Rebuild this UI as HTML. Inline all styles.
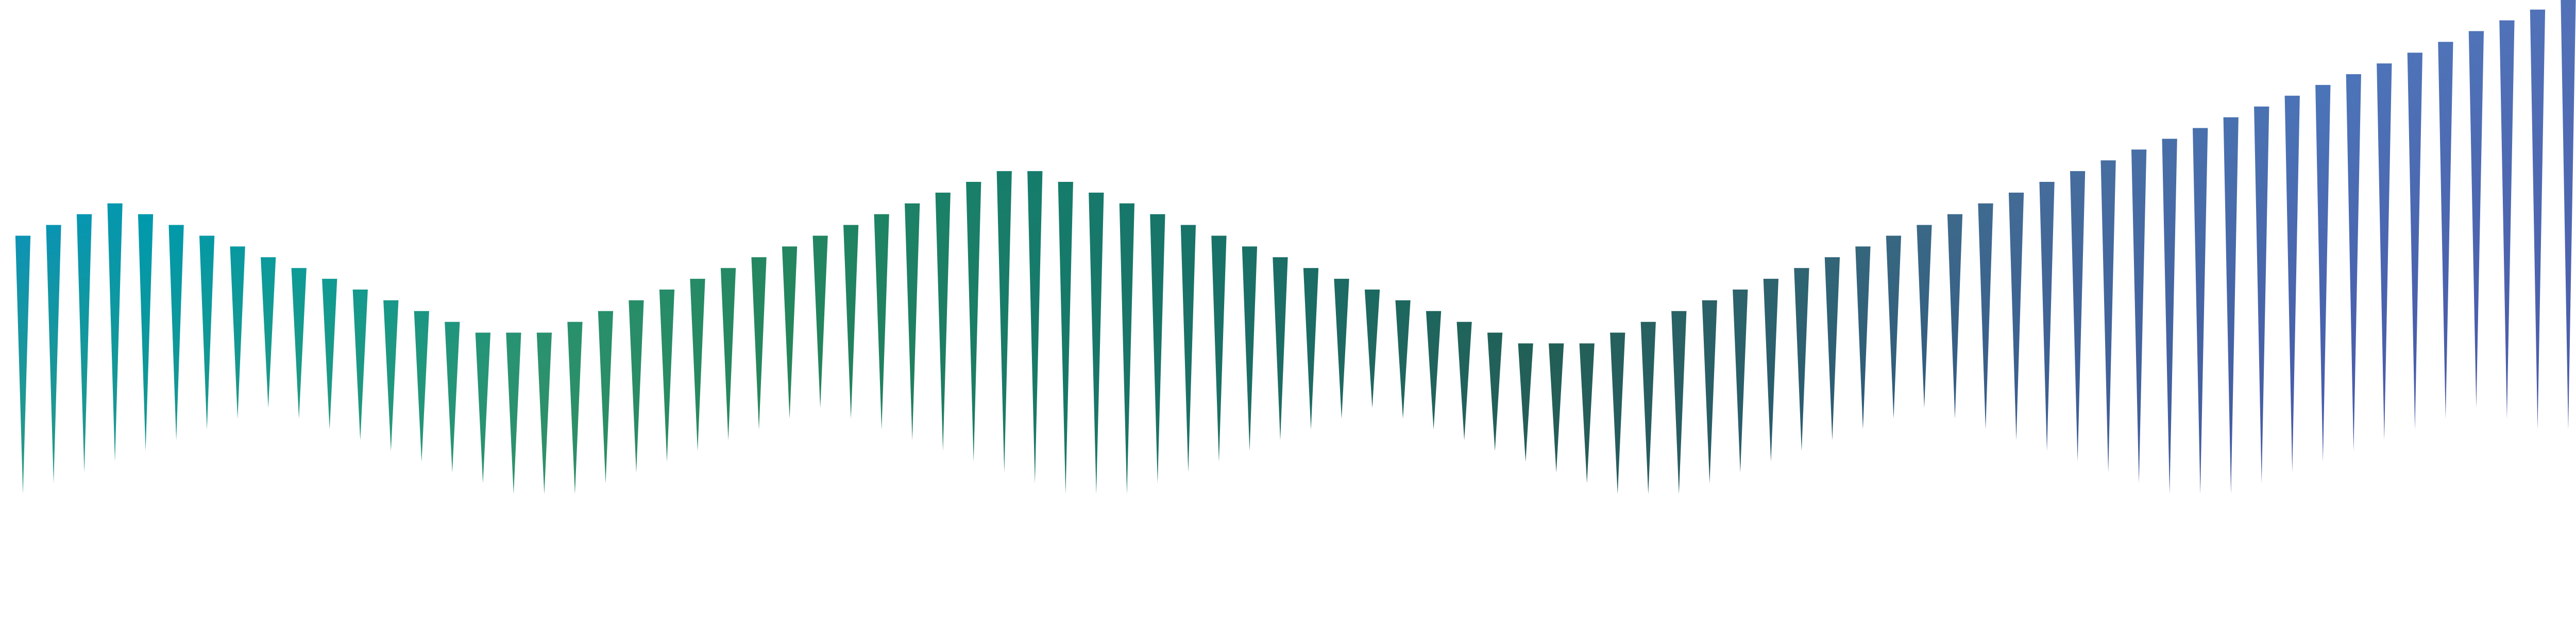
<!DOCTYPE html>
<html><head><meta charset="utf-8"><style>
html,body{margin:0;padding:0;background:#fff;width:100vw;height:100vh;overflow:hidden;}
svg{display:block;width:100vw;height:100vh;}
</style></head><body>
<svg id="chart" viewBox="0 0 7000 1250" preserveAspectRatio="none" xmlns="http://www.w3.org/2000/svg">
<defs id="defs"></defs>
<g id="marks"></g>
</svg>
<script>
const categories = Array.from({length: 84}, (_, i) => 'C' + (i + 1));
const highValues = [26,27,28,29,28,27,26,25,24,23,22,21,20,19,18,17,17,
  17,18,19,20,21,22,23,24,25,26,27,28,29,30,31,32,32,
  31,30,29,28,27,26,25,24,23,22,21,20,19,18,17,16,
  16,16,17,18,19,20,21,22,23,24,25,26,27,28,29,30,31,
  32,33,34,35,36,37,38,39,40,41,42,43,44,45,46,47,48];
const lowValues = [2,3,4,5,6,7,8,9,10,9,8,7,6,5,4,3,2,
  2,2,3,4,5,6,7,8,9,10,9,8,7,6,5,4,
  3,2,2,2,3,4,5,6,7,8,9,10,9,8,7,6,5,
  4,3,2,2,2,3,4,5,6,7,8,9,10,9,8,7,6,
  5,4,3,2,2,2,3,4,5,6,7,8,9,10,9,8,8];

const NS = 'http://www.w3.org/2000/svg';
const x0 = 62.3, step = 7000 / 84, halfW = 20.5;
function xScale(i){ return x0 + i * step; }
function yScale(v){ return 1000.9 - v * 20.9; }

const topStops = [[0,'#0d93b4'],[0.05,'#0099ad'],[0.12,'#109a92'],[0.2,'#2a9270'],[0.3,'#238660'],[0.4,'#157c6c'],[0.5,'#1a6d66'],[0.6,'#225f55'],[0.7,'#2f6472'],[0.8,'#466c9c'],[0.9,'#4b74b8'],[1,'#5272b8']];
const botStops = [[0,'#2a9a80'],[0.05,'#16978f'],[0.12,'#239a80'],[0.2,'#2f9068'],[0.3,'#278658'],[0.4,'#1a7866'],[0.5,'#1f6b64'],[0.6,'#265c58'],[0.7,'#2a5a6e'],[0.8,'#3c5c92'],[0.9,'#4858a8'],[1,'#4a5aa8']];
function hex(c){return [1,3,5].map(k=>parseInt(c.substr(k,2),16));}
function interp(stops,t){
  for(let k=0;k<stops.length-1;k++){
    const a=stops[k],b=stops[k+1];
    if(t>=a[0]&&t<=b[0]){
      const f=(t-a[0])/(b[0]-a[0]);const ca=hex(a[1]),cb=hex(b[1]);
      return 'rgb('+ca.map((v,j)=>Math.round(v+(cb[j]-v)*f)).join(',')+')';
    }
  }
  return stops[stops.length-1][1];
}
const defs = document.getElementById('defs');
const g = document.getElementById('marks');
categories.forEach((c, i) => {
  const t = i / (categories.length - 1);
  const gr = document.createElementNS(NS, 'linearGradient');
  gr.setAttribute('id', 'g' + i);
  gr.setAttribute('x1', '0'); gr.setAttribute('y1', '0');
  gr.setAttribute('x2', '0'); gr.setAttribute('y2', '1');
  const s1 = document.createElementNS(NS, 'stop');
  s1.setAttribute('offset', '0'); s1.setAttribute('stop-color', interp(topStops, t));
  const s2 = document.createElementNS(NS, 'stop');
  s2.setAttribute('offset', '1'); s2.setAttribute('stop-color', interp(botStops, t));
  gr.appendChild(s1); gr.appendChild(s2);
  defs.appendChild(gr);
  const cx = xScale(i), yt = yScale(highValues[i]), yb = yScale(lowValues[i]);
  const p = document.createElementNS(NS, 'polygon');
  p.setAttribute('points', (cx-halfW)+','+yt+' '+Math.min(cx+halfW, 7000)+','+yt+' '+cx+','+yb);
  p.setAttribute('fill', 'url(#g' + i + ')');
  
  
  g.appendChild(p);
});
</script>
</body></html>
